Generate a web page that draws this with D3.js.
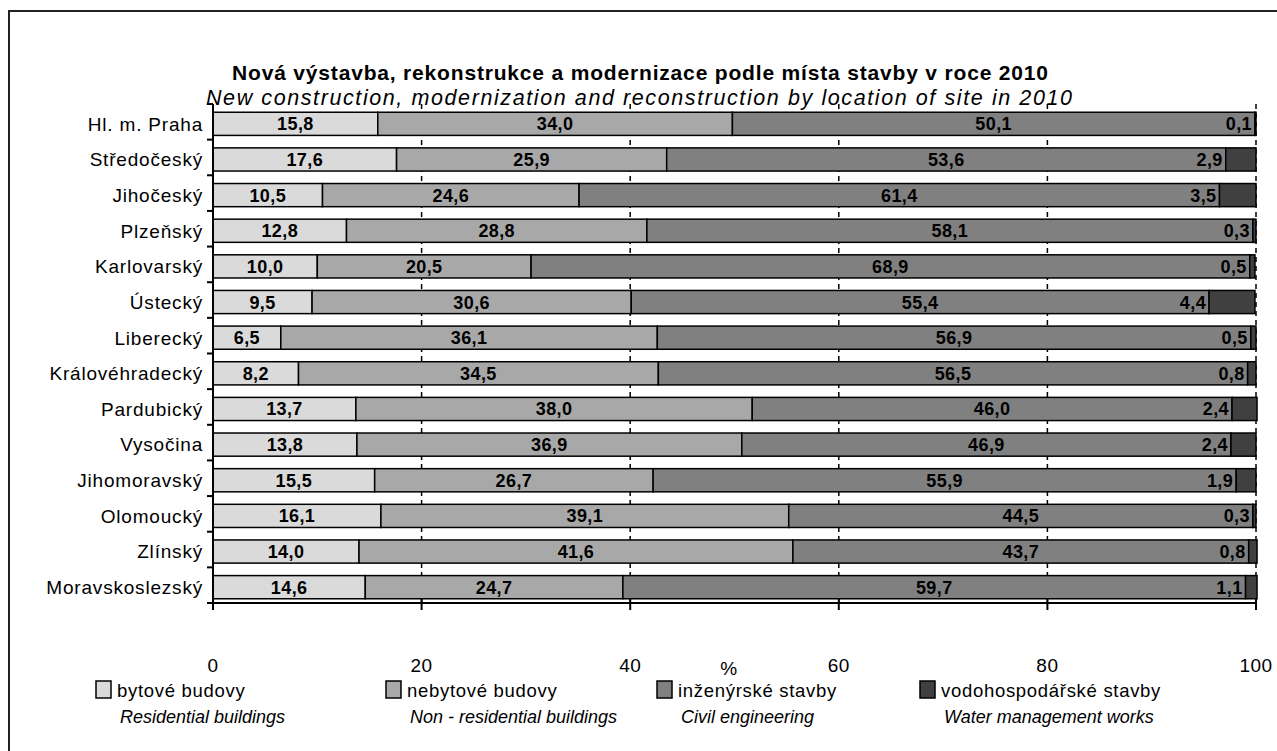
<!DOCTYPE html>
<html lang="cs">
<head>
    <meta charset="utf-8">
    <title>Nová výstavba podle místa stavby 2010</title>
    <script src="https://cdn.jsdelivr.net/npm/d3@7/dist/d3.min.js"></script>
</head>
<style>
    body {
        margin: 0;
        padding: 0;
        background-color: #ffffff;
        font-family: "Liberation Sans", Arial, sans-serif;
    }
    .cat-label { font-size: 19px; text-anchor: end; letter-spacing: 0.8px; }
    .tick-label { font-size: 19px; text-anchor: middle; letter-spacing: 0.5px; }
    .val-label { font-size: 18px; font-weight: bold; letter-spacing: 0.4px; }
    .title { font-size: 21px; font-weight: bold; text-anchor: middle; }
    .subtitle { font-size: 21.5px; font-style: italic; text-anchor: middle; }
    .legend text { font-size: 18.5px; letter-spacing: 0.7px; }
</style>
<body>
    <svg width="1277" height="751" id="chart"></svg>
    <script>
        // regions (kraje)
        var regions = ["Hl. m. Praha", "Středočeský", "Jihočeský", "Plzeňský", "Karlovarský", "Ústecký",
            "Liberecký", "Královéhradecký", "Pardubický", "Vysočina", "Jihomoravský", "Olomoucký",
            "Zlínský", "Moravskoslezský"];

        // shares in % per series
        var residential = [15.8, 17.6, 10.5, 12.8, 10.0, 9.5, 6.5, 8.2, 13.7, 13.8, 15.5, 16.1, 14.0, 14.6];
        var nonResidential = [34.0, 25.9, 24.6, 28.8, 20.5, 30.6, 36.1, 34.5, 38.0, 36.9, 26.7, 39.1, 41.6, 24.7];
        var civil = [50.1, 53.6, 61.4, 58.1, 68.9, 55.4, 56.9, 56.5, 46.0, 46.9, 55.9, 44.5, 43.7, 59.7];
        var water = [0.1, 2.9, 3.5, 0.3, 0.5, 4.4, 0.5, 0.8, 2.4, 2.4, 1.9, 0.3, 0.8, 1.1];

        var xTicks = [0, 20, 40, 60, 80, 100];

        var seriesKeys = ["res", "nonres", "civil", "water"];
        var legendCz = ["bytové budovy", "nebytové budovy", "inženýrské stavby", "vodohospodářské stavby"];
        var legendEn = ["Residential buildings", "Non - residential buildings", "Civil engineering", "Water management works"];
        var colors = ["#dadada", "#a8a8a8", "#808080", "#404040"];

        var data = regions.map(function (r, i) {
            return { region: r, res: residential[i], nonres: nonResidential[i], civil: civil[i], water: water[i] };
        });

        var series = d3.stack().keys(seriesKeys)(data);

        var svg = d3.select("#chart");

        // outer frame
        svg.append("rect")
            .attr("x", 9).attr("y", 11)
            .attr("width", 1300).attr("height", 800)
            .attr("fill", "none").attr("stroke", "#222").attr("stroke-width", 2);

        svg.append("text").attr("class", "title")
            .attr("x", 640).attr("y", 80)
            .attr("textLength", 816).attr("lengthAdjust", "spacing")
            .text("Nová výstavba, rekonstrukce a modernizace podle místa stavby v roce 2010");
        svg.append("text").attr("class", "subtitle")
            .attr("x", 639).attr("y", 105)
            .attr("textLength", 866).attr("lengthAdjust", "spacing")
            .text("New construction, modernization and reconstruction by location of site in 2010");

        var x = d3.scaleLinear().domain([0, 100]).range([213, 1256]);
        var y = d3.scaleBand().domain(regions).range([104, 603]).paddingInner(0.35).paddingOuter(0.175);

        var z = d3.scaleOrdinal().domain(seriesKeys).range(colors);

        // dashed gridlines
        svg.append("g")
            .selectAll("line")
            .data(xTicks.slice(1))
            .enter().append("line")
            .attr("x1", function (d) { return x(d); })
            .attr("x2", function (d) { return x(d); })
            .attr("y1", 104).attr("y2", 603)
            .attr("stroke", "#000").attr("stroke-width", 1.5)
            .attr("stroke-dasharray", "5,4");

        var barShift = 2;

        svg.append("g")
            .selectAll("g")
            .data(series)
            .enter().append("g")
            .attr("fill", function (d) { return z(d.key); })
            .selectAll("rect")
            .data(function (d) { return d; })
            .enter().append("rect")
            .attr("x", function (d) { return x(d[0]); })
            .attr("y", function (d) { return y(d.data.region) + barShift; })
            .attr("width", function (d) { return x(d[1]) - x(d[0]); })
            .attr("height", y.bandwidth())
            .attr("stroke", "#000")
            .attr("stroke-width", 1.5);

        // value labels
        series.forEach(function (s) {
            svg.append("g")
                .selectAll("text")
                .data(s)
                .enter().append("text")
                .attr("class", "val-label")
                .attr("text-anchor", s.key === "water" ? "end" : "middle")
                .attr("x", function (d) {
                    return s.key === "water" ? x(d[0]) - 3 : x((d[0] + d[1]) / 2);
                })
                .attr("y", function (d) { return y(d.data.region) + barShift + y.bandwidth() / 2; })
                .attr("dy", "0.36em")
                .text(function (d) { return d3.format(".1f")(d.data[s.key]).replace(".", ","); });
        });

        // left axis
        var left = svg.append("g");
        left.append("line")
            .attr("x1", x(0)).attr("x2", x(0)).attr("y1", 104).attr("y2", 603)
            .attr("stroke", "#000").attr("stroke-width", 2);
        left.selectAll(".cat-tick")
            .data(regions.concat([null]))
            .enter().append("line")
            .attr("x1", x(0) - 6).attr("x2", x(0))
            .attr("y1", function (d, i) { return 104 + i * y.step(); })
            .attr("y2", function (d, i) { return 104 + i * y.step(); })
            .attr("stroke", "#000").attr("stroke-width", 2);
        left.selectAll(".cat-label")
            .data(regions)
            .enter().append("text")
            .attr("class", "cat-label")
            .attr("x", x(0) - 10)
            .attr("y", function (d) { return y(d) + barShift + y.bandwidth() / 2; })
            .attr("dy", "0.36em")
            .text(function (d) { return d; });

        // bottom axis
        var bottom = svg.append("g");
        bottom.append("line")
            .attr("x1", x(0)).attr("x2", x(100)).attr("y1", 603).attr("y2", 603)
            .attr("stroke", "#000").attr("stroke-width", 2);
        bottom.selectAll(".xt")
            .data(xTicks)
            .enter().append("line")
            .attr("x1", function (d) { return x(d); })
            .attr("x2", function (d) { return x(d); })
            .attr("y1", 598).attr("y2", 610)
            .attr("stroke", "#000").attr("stroke-width", 2);
        bottom.selectAll(".tick-label")
            .data(xTicks)
            .enter().append("text")
            .attr("class", "tick-label")
            .attr("x", function (d) { return x(d); })
            .attr("y", 672)
            .text(function (d) { return d; });
        bottom.append("text")
            .attr("class", "tick-label")
            .attr("x", 729).attr("y", 675)
            .text("%");

        // legend
        var legendX = [96, 386, 657, 920];
        var legend = svg.append("g").attr("class", "legend")
            .selectAll("g")
            .data(seriesKeys)
            .enter().append("g")
            .attr("transform", function (d, i) { return "translate(" + legendX[i] + ",681)"; });

        legend.append("rect")
            .attr("width", 15).attr("height", 17)
            .attr("fill", z)
            .attr("stroke", "#000").attr("stroke-width", 1.5);
        legend.append("text")
            .attr("x", 21).attr("y", 16)
            .text(function (d, i) { return legendCz[i]; });
        legend.append("text")
            .attr("x", 24).attr("y", 42)
            .style("font-style", "italic")
            .style("font-size", "18px")
            .style("letter-spacing", "0px")
            .text(function (d, i) { return legendEn[i]; });
    </script>
</body>
</html>
